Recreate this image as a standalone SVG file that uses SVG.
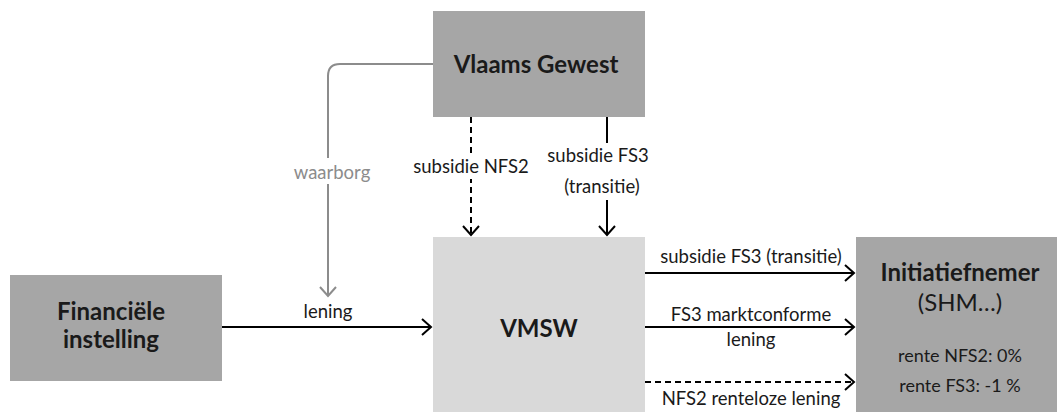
<svg xmlns="http://www.w3.org/2000/svg" width="1057" height="412" viewBox="0 0 1057 412">
<style>
.box-dark{fill:#a6a6a6}
.box-light{fill:#d9d9d9}
.t{font-family:Lato,"Liberation Sans",sans-serif;fill:#1a1a1a;text-anchor:middle}
.title{font-size:24px;font-weight:bold}
.lbl{font-size:18.5px}
.small{font-size:18px}
.bg{fill:#ffffff}
.ln{stroke:#000;stroke-width:2;fill:none}
.dash{stroke-dasharray:6 4}
.grey{stroke:#8c8c8c}
</style>
<defs>
<marker id="ah" markerUnits="userSpaceOnUse" markerWidth="20" markerHeight="20" viewBox="-12 -10 14 20" refX="0" refY="0" orient="auto">
<path d="M-9,-8 L0,0 L-9,8" fill="none" stroke="#000" stroke-width="2"/>
</marker>
<marker id="ahg" markerUnits="userSpaceOnUse" markerWidth="20" markerHeight="20" viewBox="-12 -10 14 20" refX="0" refY="0" orient="auto">
<path d="M-9,-8 L0,0 L-9,8" fill="none" stroke="#8c8c8c" stroke-width="2"/>
</marker>
</defs>
<rect width="1057" height="412" fill="#fff"/>
<g id="connectors">
<path class="ln grey" d="M433,64 H340 Q328,64 328,76 V296" marker-end="url(#ahg)"/>
<rect class="bg" x="290" y="158" width="80" height="26"/>
<text class="t lbl" x="332" y="179" style="fill:#8c8c8c">waarborg</text>
<path class="ln dash" d="M471,117 V235" marker-end="url(#ah)"/>
<rect class="bg" x="408" y="155" width="126" height="24"/>
<text class="t lbl" x="471" y="173">subsidie NFS2</text>
<path class="ln" d="M607,117 V235" marker-end="url(#ah)"/>
<rect class="bg" x="544" y="143" width="106" height="57"/>
<text class="t lbl" x="598" y="162">subsidie FS3</text>
<text class="t lbl" x="602" y="193">(transitie)</text>
<path class="ln" d="M222,327 H431" marker-end="url(#ah)"/>
<text class="t lbl" x="328" y="318">lening</text>
<path class="ln" d="M645,273 H854" marker-end="url(#ah)"/>
<text class="t lbl" x="751" y="263">subsidie FS3 (transitie)</text>
<path class="ln" d="M645,327 H854" marker-end="url(#ah)"/>
<text class="t lbl" x="751" y="321">FS3 marktconforme</text>
<text class="t lbl" x="751" y="346">lening</text>
<path class="ln dash" d="M645,382 H854" marker-end="url(#ah)"/>
<text class="t lbl" x="751" y="405">NFS2 renteloze lening</text>
</g>
<g id="vlaams-gewest">
<rect class="box-dark" x="433" y="11" width="212" height="106"/>
<text class="t title" x="536" y="73">Vlaams Gewest</text>
</g>
<g id="vmsw">
<rect class="box-light" x="433" y="237" width="212" height="175"/>
<text class="t title" x="539" y="337">VMSW</text>
</g>
<g id="financiele-instelling">
<rect class="box-dark" x="10" y="275" width="212" height="106"/>
<text class="t title" x="111" y="320">Financiële</text>
<text class="t title" x="111" y="348">instelling</text>
</g>
<g id="initiatiefnemer">
<rect class="box-dark" x="856" y="237" width="201" height="175"/>
<text class="t title" x="960" y="281">Initiatiefnemer</text>
<text class="t" x="960" y="311" style="font-size:24px">(SHM…)</text>
<text class="t small" x="960" y="362">rente NFS2: 0%</text>
<text class="t small" x="960" y="392">rente FS3: -1 %</text>
</g>
</svg>
